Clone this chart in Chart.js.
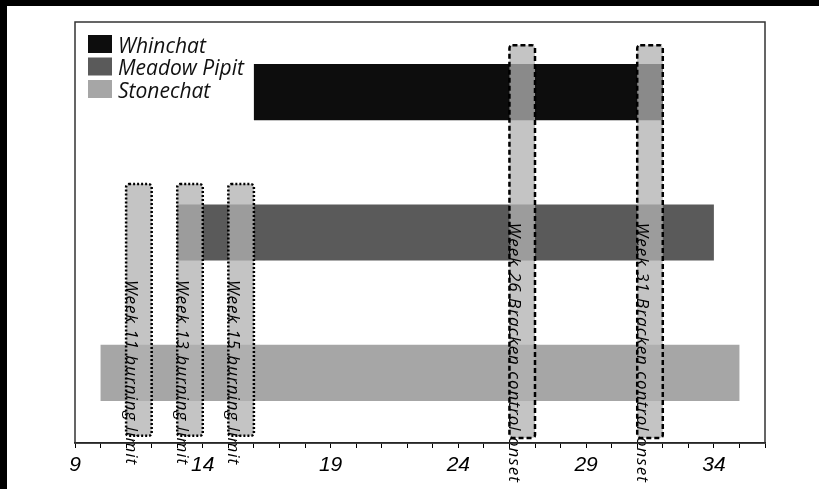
<!DOCTYPE html>
<html>
<head>
<meta charset="utf-8">
<script src="https://cdn.jsdelivr.net/npm/chart.js@4.4.1/dist/chart.umd.min.js"></script>
<style>
  html, body { margin: 0; padding: 0; background: #000; }
  #wrap { position: absolute; left: 7px; top: 6px; width: 812px; height: 483px; background: #fff; }
</style>
</head>
<body>
<div id="wrap"><canvas id="chart" width="812" height="483"></canvas></div>
<script>
// species occupancy (weeks)
const species = ["Whinchat", "Meadow Pipit", "Stonechat"];
const seasonStart = [16, 13, 10];
const seasonEnd = [32, 34, 35];
const speciesColors = ["#0d0d0d", "#5a5a5a", "#a6a6a6"];

// management events (weeks), vertical extent on a hidden 0-100 axis
const eventLabels = [
  "Week 11 burning limit",
  "Week 13 burning limit",
  "Week 15 burning limit",
  "Week 26 Bracken control onset",
  "Week 31 Bracken control onset",
];
const eventStart = [11, 13, 15, 26, 31];
const eventEnd = [12, 14, 16, 27, 32];
const eventTop = [61.5, 61.5, 61.5, 94.5, 94.5];
const eventBottom = [1.7, 1.7, 1.7, 1.2, 1.2];
const eventTextY = [38.7, 38.7, 38.7, 52.3, 52.3];
const eventStyle = ["dotted", "dotted", "dotted", "dashed", "dashed"];

const tickLabels = [9, 14, 19, 24, 29, 34];

const overlayPlugin = {
  id: "overlay",
  afterDatasetsDraw(chart) {
    const ctx = chart.ctx;
    const x = chart.scales.x;
    const yv = chart.scales.yPos;
    const area = chart.chartArea;

    // event boxes
    for (let i = 0; i < eventLabels.length; i++) {
      const x1 = x.getPixelForValue(eventStart[i]);
      const x2 = x.getPixelForValue(eventEnd[i]);
      const y1 = yv.getPixelForValue(eventTop[i]);
      const y2 = yv.getPixelForValue(eventBottom[i]);
      ctx.save();
      ctx.beginPath();
      if (ctx.roundRect) ctx.roundRect(x1, y1, x2 - x1, y2 - y1, 3);
      else ctx.rect(x1, y1, x2 - x1, y2 - y1);
      ctx.fillStyle = "rgba(178,178,178,0.76)";
      ctx.fill();
      ctx.lineWidth = 2.5;
      ctx.strokeStyle = "#000";
      ctx.setLineDash(eventStyle[i] === "dotted" ? [2, 2] : [5, 3]);
      ctx.stroke();
      ctx.restore();
    }

    // rotated event labels
    for (let i = 0; i < eventLabels.length; i++) {
      const tx = x.getPixelForValue(eventStart[i]);
      const ty = yv.getPixelForValue(eventTextY[i]);
      ctx.save();
      ctx.translate(tx, ty);
      ctx.rotate(Math.PI / 2);
      ctx.font = "italic 17px 'Open Sans'";
      if ("letterSpacing" in ctx) ctx.letterSpacing = "1px";
      ctx.fillStyle = "#000";
      ctx.textAlign = "left";
      ctx.textBaseline = "alphabetic";
      ctx.fillText(eventLabels[i], 0, 0);
      ctx.restore();
    }

    // frame
    ctx.save();
    ctx.strokeStyle = "#333";
    ctx.lineWidth = 1.5;
    ctx.strokeRect(area.left, area.top, area.right - area.left, area.bottom - area.top);
    ctx.restore();

    // legend
    ctx.save();
    ctx.font = "italic 21px 'Open Sans'";
    ctx.textBaseline = "middle";
    for (let i = 0; i < species.length; i++) {
      const ly = area.top + 13 + i * 22.5;
      ctx.fillStyle = speciesColors[i];
      ctx.fillRect(area.left + 13, ly, 24, 18);
      ctx.fillStyle = "#111";
      ctx.fillText(species[i], area.left + 43, ly + 12);
    }
    ctx.restore();
  },
};

new Chart(document.getElementById("chart"), {
  type: "bar",
  data: {
    labels: species,
    datasets: [
      {
        data: species.map((s, i) => [seasonStart[i], seasonEnd[i]]),
        backgroundColor: speciesColors,
        borderWidth: 0,
        barPercentage: 0.4,
        categoryPercentage: 1,
      },
    ],
  },
  options: {
    indexAxis: "y",
    responsive: false,
    animation: false,
    layout: { padding: { left: 68, top: 16, right: 54, bottom: 0 } },
    plugins: { legend: { display: false }, tooltip: { enabled: false } },
    scales: {
      x: {
        type: "linear",
        min: 9,
        max: 36,
        afterFit: (scale) => { scale.height = 46; },
        border: { display: true, color: "#000", width: 1.5 },
        grid: { drawOnChartArea: false, drawTicks: true, tickLength: 5, color: "#000" },
        ticks: {
          stepSize: 1,
          autoSkip: false,
          maxRotation: 0,
          padding: 5,
          color: "#000",
          font: { family: "'Liberation Sans', Arial", style: "italic", size: 21 },
          callback: (v) => (tickLabels.includes(v) ? String(v) : ""),
        },
      },
      y: { display: false },
      yPos: { type: "linear", display: false, min: 0, max: 100, offset: false, grid: { offset: false } },
    },
  },
  plugins: [overlayPlugin],
});
</script>
</body>
</html>
